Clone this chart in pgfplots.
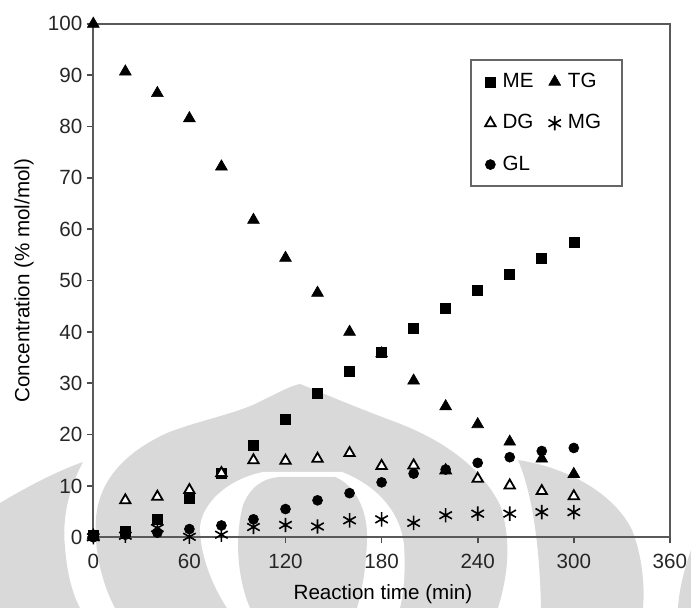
\documentclass[border=0pt]{standalone}
\usepackage{pgfplots}
\pgfplotsset{compat=1.18}
\usepackage{fontspec}
\setmainfont{Liberation Sans}
\begin{document}
\begin{tikzpicture}[font=\fontsize{10.3}{12}\selectfont]
\path[use as bounding box] (0,0) rectangle (345.5pt,304pt);
% watermark (light grey logo in the background), image pixel coordinates
\begin{scope}[shift={(0pt,304pt)},x=0.5pt,y=-0.5pt]
\clip (0,0) rectangle (691,608);
\fill[black!15] (0,503) .. controls (30,485) and (60,470) .. (83,462)
  .. controls (68,490) and (62,520) .. (65,547)
  .. controls (67,575) and (73,595) .. (80,608) -- (0,608) -- cycle;
\fill[black!15] (115,608) .. controls (100,580) and (92,540) .. (97,510)
  .. controls (103,475) and (130,450) .. (167,433)
  .. controls (200,420) and (240,413) .. (263,400)
  .. controls (280,392) and (290,386) .. (300,384)
  .. controls (320,392) and (350,405) .. (390,420)
  .. controls (440,438) and (480,465) .. (500,505)
  .. controls (512,540) and (508,575) .. (498,608) -- cycle;
\fill[white] (227,608) .. controls (212,585) and (200,555) .. (200,527)
  .. controls (202,505) and (225,480) .. (263,472)
  -- (342,472) .. controls (375,485) and (400,510) .. (404,545)
  .. controls (406,575) and (403,595) .. (400,608) -- cycle;
\fill[black!15] (250,608) .. controls (238,580) and (234,540) .. (243,505)
  .. controls (250,488) and (262,478) .. (280,477) -- (335,477)
  .. controls (355,485) and (368,510) .. (367,540)
  .. controls (366,570) and (362,590) .. (357,608) -- cycle;
\fill[black!15] (541,608) .. controls (540,560) and (535,500) .. (518,460)
  .. controls (570,468) and (615,495) .. (632,530)
  .. controls (642,555) and (645,585) .. (643,608) -- cycle;
\fill[black!15] (691,550) .. controls (684,570) and (679,590) .. (678,608) -- (691,608) -- cycle;
\end{scope}
\begin{axis}[
  at={(46.65pt,35.35pt)}, anchor=south west,
  scale only axis, width=288.3pt, height=256.7pt,
  xmin=0, xmax=360, ymin=0, ymax=100,
  xtick={0,60,...,360}, ytick={0,10,...,100},
  xtick pos=bottom, ytick pos=left,
  tick align=outside, major tick length=3pt,
  tick style={black!70, line width=0.8pt},
  axis line style={black!65, line width=0.9pt},
  /pgf/number format/assume math mode=true,
  tick label style={text=black!85},
  xticklabel style={yshift=-2pt},
  yticklabel style={xshift=1pt},
  xlabel={Reaction time (min)},
  ylabel={Concentration (\% mol/mol)},
  every axis x label/.style={at={(axis description cs:0.5023,-0.1221)}, anchor=base},
  every axis y label/.style={at={(axis description cs:-0.1202,0.5)}, rotate=90, anchor=center},
  legend columns=2,
  legend cell align=left,
  legend image code/.code={\draw[#1] plot coordinates {(0pt,0pt)};},
  legend style={at={(0.654,0.931)}, anchor=north west, draw=black!60, line width=0.8pt,
    inner xsep=7pt, inner ysep=5pt, row sep=9pt,
    nodes={inner xsep=3.5pt, inner ysep=1.5pt},
    /tikz/every even column/.append style={column sep=4pt}},
]
\addplot[only marks, mark=square*, mark size=2.5pt, black, line width=0.3pt] coordinates {
(0,0.3) (20,1.2) (40,3.5) (60,7.5) (80,12.5) (100,18) (120,23) (140,28) (160,32.4)
(180,36.1) (200,40.8) (220,44.6) (240,48.1) (260,51.2) (280,54.4) (300,57.4)};
\addlegendentry{ME}
\addplot[only marks, mark=triangle*, mark size=3.4pt, black, line width=0.3pt] coordinates {
(0,100) (20,90.7) (40,86.5) (60,81.6) (80,72.2) (100,61.8) (120,54.4) (140,47.6) (160,40)
(180,35.8) (200,30.5) (220,25.5) (240,22) (260,18.6) (280,15.3) (300,12.3)};
\addlegendentry{TG}
\addplot[only marks, mark=triangle*, mark size=3pt, mark options={fill=white, draw=black, line width=0.9pt}] coordinates {
(0,0.3) (20,7.2) (40,7.9) (60,9.2) (80,12.5) (100,15) (120,14.9) (140,15.3) (160,16.4)
(180,13.9) (200,14) (220,13) (240,11.4) (260,10.1) (280,9) (300,8)};
\addlegendentry{DG}
\addplot[only marks, mark=asterisk, mark size=3.6pt, black, line width=0.8pt] coordinates {
(0,0) (20,0.3) (40,1.8) (60,0.1) (80,0.5) (100,2) (120,2.4) (140,2.1) (160,3.3)
(180,3.5) (200,2.8) (220,4.3) (240,4.6) (260,4.6) (280,4.9) (300,4.9)};
\addlegendentry{MG}
\addplot[only marks, mark=*, mark size=2.5pt, black, line width=0.3pt] coordinates {
(0,0) (20,0.5) (40,0.9) (60,1.6) (80,2.3) (100,3.5) (120,5.5) (140,7.2) (160,8.6)
(180,10.7) (200,12.4) (220,13.2) (240,14.5) (260,15.6) (280,16.8) (300,17.4)};
\addlegendentry{GL}
\end{axis}
\end{tikzpicture}
\end{document}
